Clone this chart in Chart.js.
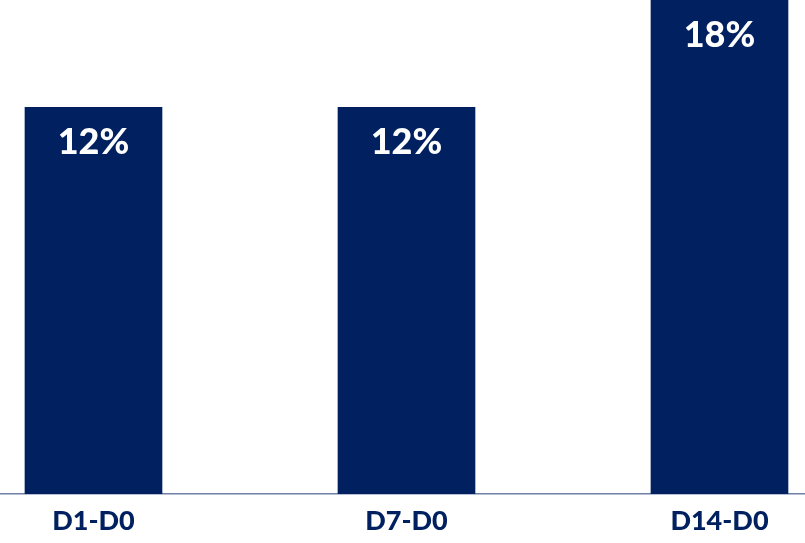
<!DOCTYPE html>
<html>
<head>
<meta charset="utf-8">
<script src="https://cdn.jsdelivr.net/npm/chart.js@4"></script>
<style>
  html, body { margin: 0; padding: 0; background: #fff; }
  canvas { display: block; }
</style>
</head>
<body>
<canvas id="chart" width="805" height="543"></canvas>
<script>
const categories = ['D1-D0', 'D7-D0', 'D14-D0'];
const retention = [12, 12, 18];
const valueLabels = ['12%', '12%', '18%'];

const navy = '#002060';
const fontFamily = 'Lato, "Noto Sans", sans-serif';

// draws the percentage inside each bar, near the visible top
const barLabels = {
  id: 'barLabels',
  afterDatasetsDraw(chart) {
    const { ctx, chartArea } = chart;
    const meta = chart.getDatasetMeta(0);
    ctx.save();
    ctx.fillStyle = '#ffffff';
    ctx.font = '900 36px ' + fontFamily;
    ctx.textAlign = 'center';
    ctx.textBaseline = 'middle';
    meta.data.forEach((bar, i) => {
      const top = Math.max(bar.y, chartArea.top);
      ctx.fillText(valueLabels[i], bar.x, top + 35);
    });
    ctx.restore();
  }
};

// the picture is a crop of a wider chart, so the x range runs past the outer bars
const points = retention.map((v, i) => ({ x: i, y: v }));

new Chart(document.getElementById('chart'), {
  type: 'bar',
  data: {
    datasets: [{
      data: points,
      backgroundColor: navy,
      borderWidth: 0,
      barThickness: 137
    }]
  },
  options: {
    responsive: false,
    animation: false,
    layout: { padding: 0 },
    plugins: { legend: { display: false }, tooltip: { enabled: false } },
    scales: {
      x: {
        type: 'linear',
        offset: false,
        min: -0.2987,
        max: 2.2732,
        grid: { display: false, drawTicks: false, offset: false },
        border: { display: true, color: '#6f7fa8', width: 1.5 },
        ticks: {
          stepSize: 1,
          includeBounds: false,
          autoSkip: false,
          maxRotation: 0,
          color: navy,
          padding: 18,
          font: { family: fontFamily, size: 27, weight: '900', lineHeight: 0.67 },
          callback: (value) => categories[value] ?? ''
        },
        afterFit: (scale) => { scale.height -= 5; }
      },
      y: {
        display: false,
        min: 0,
        max: 15.33
      }
    }
  },
  plugins: [barLabels]
});
</script>
</body>
</html>
